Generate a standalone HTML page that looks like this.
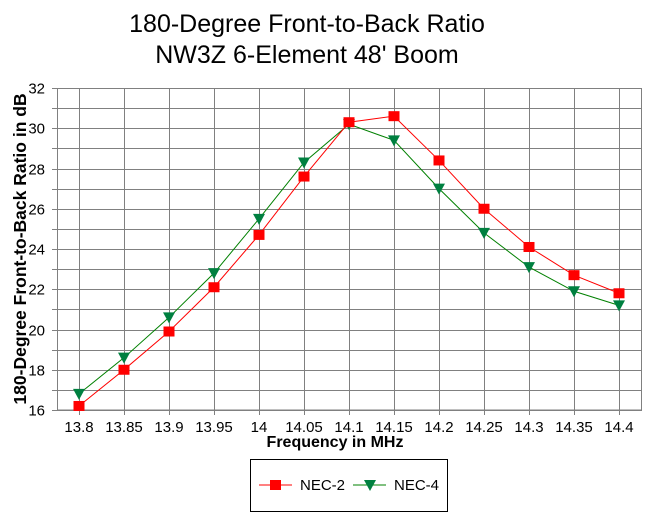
<!DOCTYPE html>
<html><head><meta charset="utf-8"><style>html,body{margin:0;padding:0;background:#fff}svg{display:block}</style></head>
<body>
<svg width="647" height="516" xmlns="http://www.w3.org/2000/svg" font-family="Liberation Sans, Arial, sans-serif">
<rect width="647" height="516" fill="#fff"/>
<text x="307" y="32" font-size="25" text-anchor="middle">180-Degree Front-to-Back Ratio</text>
<text x="307" y="63" font-size="25" text-anchor="middle">NW3Z 6-Element 48' Boom</text>
<g id="g" stroke="#808080" stroke-width="1"></g>
<g id="lbl" font-size="15"></g>
<text x="335" y="447" font-size="16" font-weight="bold" text-anchor="middle">Frequency in MHz</text>
<text transform="translate(26,249) rotate(-90)" font-size="17.5" font-weight="bold" text-anchor="middle">180-Degree Front-to-Back Ratio in dB</text>
<g id="s"></g>
<rect x="250.5" y="459.5" width="197" height="52" fill="none" stroke="#000"/>
<line x1="259" y1="485" x2="292" y2="485" stroke="#f00"/>
<rect x="270" y="480" width="11" height="10" fill="#f00"/>
<text x="300" y="490" font-size="15">NEC-2</text>
<line x1="353" y1="485" x2="386" y2="485" stroke="#008000"/>
<polygon points="364,480 376,480 370,491" fill="#008040"/>
<text x="394" y="490" font-size="15">NEC-4</text>
<script>
var ns="http://www.w3.org/2000/svg";
function el(p,t,a,txt){var e=document.createElementNS(ns,t);for(var k in a)e.setAttribute(k,a[k]);if(txt)e.textContent=txt;p.appendChild(e);return e;}
var g=document.getElementById('g'),L=document.getElementById('lbl'),S=document.getElementById('s');
function Y(v){return 410-(v-16)*20.125;}
function X(i){return 79+i*45;}
for(var v=16;v<=32;v++){var y=Math.round(Y(v))+0.5;el(g,'line',{x1:52,y1:y,x2:642,y2:y});
 if(v%2==0)el(L,'text',{x:45,y:y+5,'text-anchor':'end'},String(v));}
var fx=['13.8','13.85','13.9','13.95','14','14.05','14.1','14.15','14.2','14.25','14.3','14.35','14.4'];
for(var i=0;i<13;i++){var x=Math.round(X(i))+0.5;el(g,'line',{x1:x,y1:88,x2:x,y2:415});
 el(L,'text',{x:X(i),y:432,'text-anchor':'middle'},fx[i]);}
el(g,'rect',{x:57.5,y:88.5,width:584,height:321.5,fill:'none'});
var a=[16.2,18.0,19.9,22.1,24.7,27.6,30.3,30.6,28.4,26.0,24.1,22.7,21.8];
var b=[16.8,18.6,20.6,22.8,25.5,28.3,30.2,29.4,27.0,24.8,23.1,21.9,21.2];
var pa=a.map(function(v,i){return X(i)+','+Y(v)}).join(' ');
var pb=b.map(function(v,i){return X(i)+','+Y(v)}).join(' ');
el(S,'polyline',{points:pb,fill:'none',stroke:'#008000','stroke-width':1});
el(S,'polyline',{points:pa,fill:'none',stroke:'#f00','stroke-width':1});
b.forEach(function(v,i){var x=X(i),y=Y(v);el(S,'polygon',{points:(x-6)+','+(y-5)+' '+(x+6)+','+(y-5)+' '+x+','+(y+6),fill:'#008040'});});
a.forEach(function(v,i){el(S,'rect',{x:X(i)-5.5,y:Y(v)-5,width:11,height:10,fill:'#f00'});});
</script>
</svg>
</body></html>
